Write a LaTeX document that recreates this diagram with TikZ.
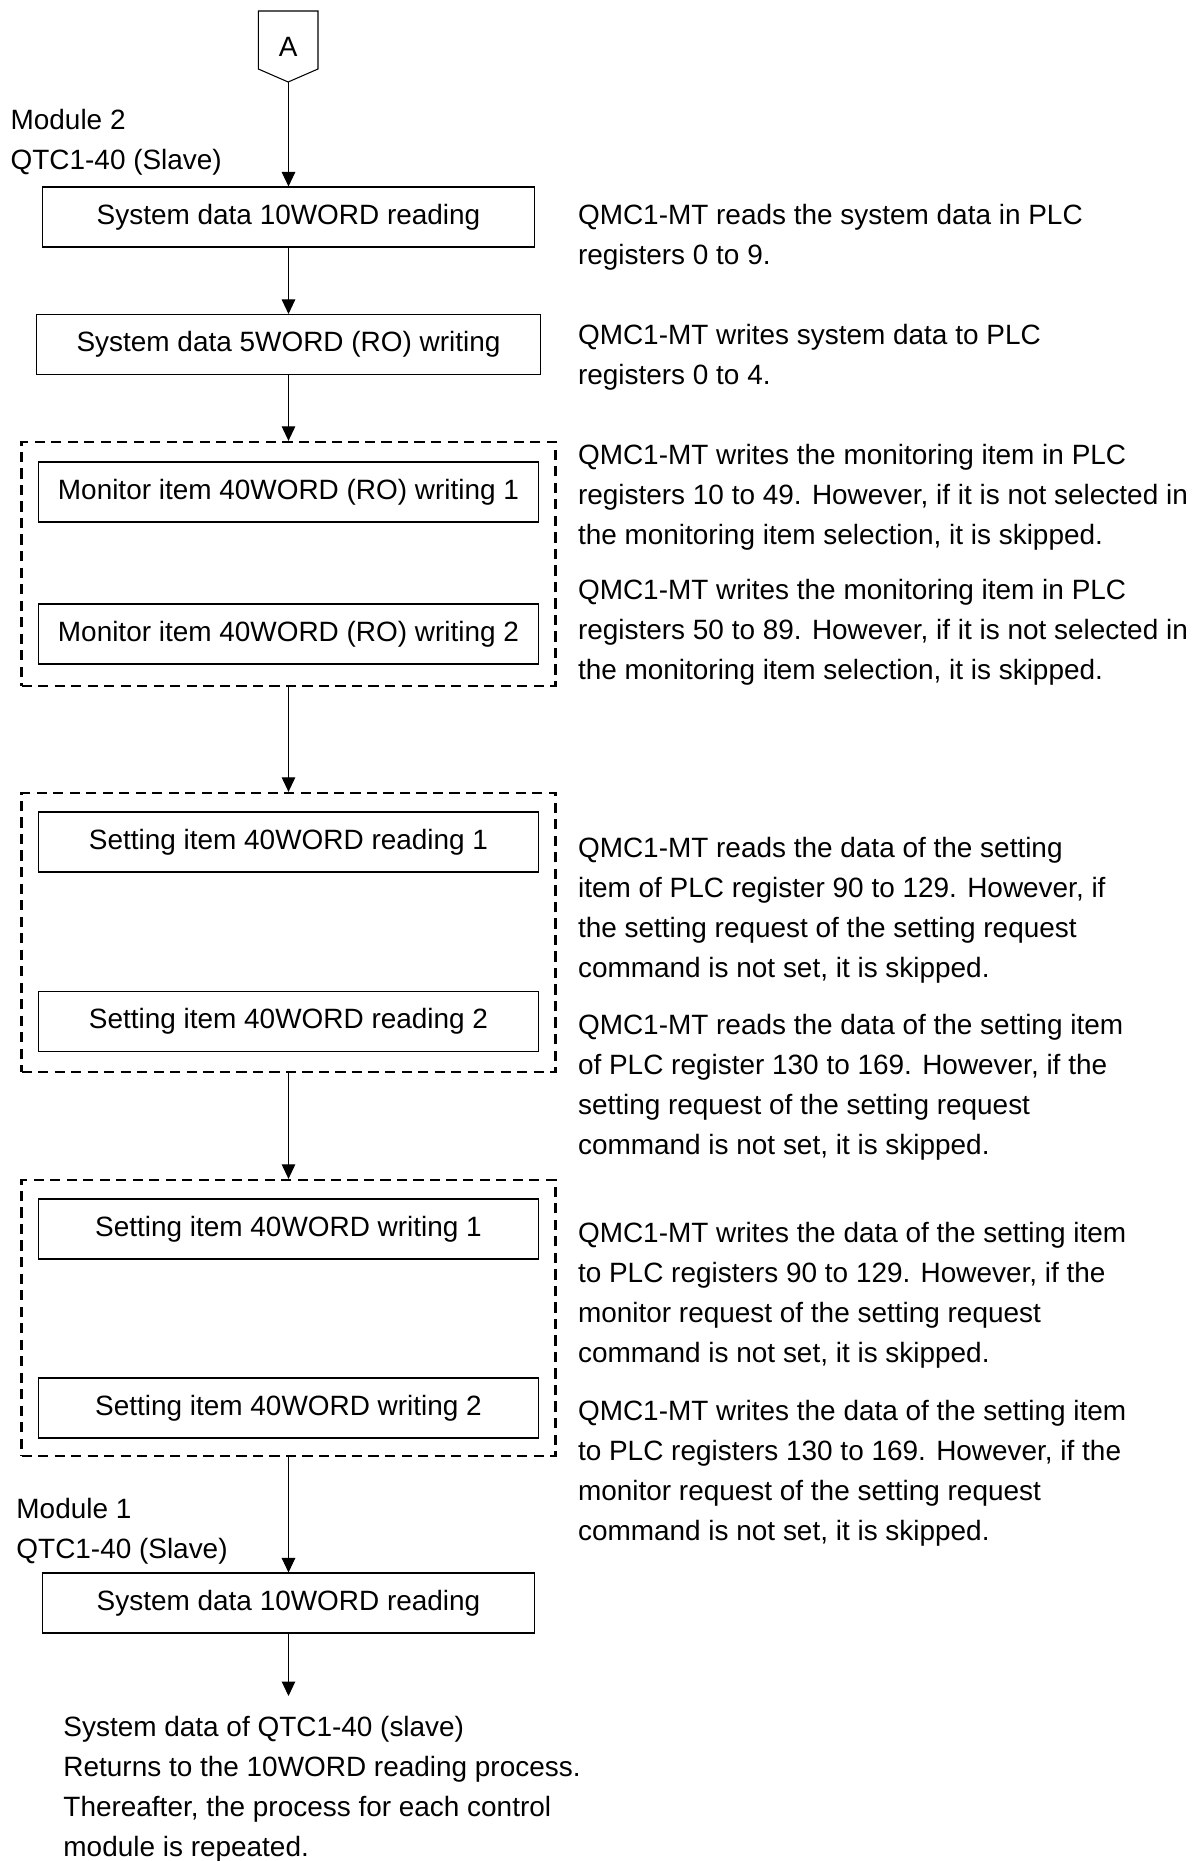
\documentclass[tikz,border=0pt]{standalone}
\usepackage{fontspec}
\setmainfont{Liberation Sans}
\usetikzlibrary{arrows.meta,positioning}

\begin{document}
\begin{tikzpicture}[>={Triangle[length=2.9mm,width=2.7mm]},font=\fontsize{15.9}{22.76}\selectfont,x=1.000cm,y=1.000cm,
 box/.style={draw,line width=0.6pt,minimum width=9.990cm,minimum height=1.200cm,inner sep=0pt},
 grp/.style={draw,line width=1.3pt,dash pattern=on 5.8pt off 3.6pt,minimum width=10.676cm,inner sep=0pt},
 note/.style={anchor=west,align=left,inner sep=0pt},
 lab/.style={anchor=west,align=left,inner sep=0pt}]
\useasboundingbox (0.000,0.000) rectangle (23.920,-37.220);
% off-page connector
\draw[line width=0.6pt] (5.166,-0.220) -- (6.360,-0.220) -- (6.360,-1.380) -- (5.763,-1.640) -- (5.166,-1.380) -- cycle;
\node (conA) at (5.763,-0.940) {A};
\coordinate (conAtip) at (5.770,-1.640);
\node[lab] (mod2) at (0.206,-2.850) {Module 2\\QTC1-40 (Slave)};
% module 2 steps
\node[box,minimum width=9.828cm] (sys1) at (5.770,-4.340) {System data 10WORD reading};
\node[box,minimum width=10.080cm] (sys5) at (5.770,-6.890) {System data 5WORD (RO) writing};
\node[grp,minimum height=4.880cm] (grp1) at (5.770,-11.280) {};
\node[box] (mon1) at (5.770,-9.840) {Monitor item 40WORD (RO) writing 1};
\node[box] (mon2) at (5.770,-12.680) {Monitor item 40WORD (RO) writing 2};
\node[grp,minimum height=5.580cm] (grp2) at (5.770,-18.650) {};
\node[box] (rd1) at (5.770,-16.840) {Setting item 40WORD reading 1};
\node[box] (rd2) at (5.770,-20.430) {Setting item 40WORD reading 2};
\node[grp,minimum height=5.520cm] (grp3) at (5.770,-26.360) {};
\node[box] (wr1) at (5.770,-24.580) {Setting item 40WORD writing 1};
\node[box] (wr2) at (5.770,-28.160) {Setting item 40WORD writing 2};
\node[lab] (mod1) at (0.322,-30.620) {Module 1\\QTC1-40 (Slave)};
\node[box,minimum width=9.828cm] (sys1b) at (5.770,-32.060) {System data 10WORD reading};
\coordinate (endtip) at (5.770,-33.920);
\node[lab] (endtxt) at (1.262,-35.780) {System data of QTC1-40 (slave)\\Returns to the 10WORD reading process.\\Thereafter, the process for each control\\module is repeated.};
% notes
\node[note] (n1) at (11.554,-4.750) {QMC1-MT reads the system data in PLC\\registers 0 to 9.};
\node[note] (n2) at (11.554,-7.150) {QMC1-MT writes system data to PLC\\registers 0 to 4.};
\node[note] (n3) at (11.554,-9.940) {QMC1-MT writes the monitoring item in PLC\\registers 10 to 49. However, if it is not selected in\\the monitoring item selection, it is skipped.};
\node[note] (n4) at (11.554,-12.640) {QMC1-MT writes the monitoring item in PLC\\registers 50 to 89. However, if it is not selected in\\the monitoring item selection, it is skipped.};
\node[note] (n5) at (11.554,-18.200) {QMC1-MT reads the data of the setting\\item of PLC register 90 to 129. However, if\\the setting request of the setting request\\command is not set, it is skipped.};
\node[note] (n6) at (11.554,-21.740) {QMC1-MT reads the data of the setting item\\of PLC register 130 to 169. However, if the\\setting request of the setting request\\command is not set, it is skipped.};
\node[note] (n7) at (11.554,-25.900) {QMC1-MT writes the data of the setting item\\to PLC registers 90 to 129. However, if the\\monitor request of the setting request\\command is not set, it is skipped.};
\node[note] (n8) at (11.554,-29.460) {QMC1-MT writes the data of the setting item\\to PLC registers 130 to 169. However, if the\\monitor request of the setting request\\command is not set, it is skipped.};
\draw[->,line width=0.6pt] (conAtip) -- (sys1);
\draw[->,line width=0.6pt] (sys1) -- (sys5);
\draw[->,line width=0.6pt] (sys5) -- (grp1);
\draw[->,line width=0.6pt] (grp1) -- (grp2);
\draw[->,line width=0.6pt] (grp2) -- (grp3);
\draw[->,line width=0.6pt] (grp3) -- (sys1b);
\draw[->,line width=0.6pt] (sys1b) -- (endtip);
\end{tikzpicture}
\end{document}
